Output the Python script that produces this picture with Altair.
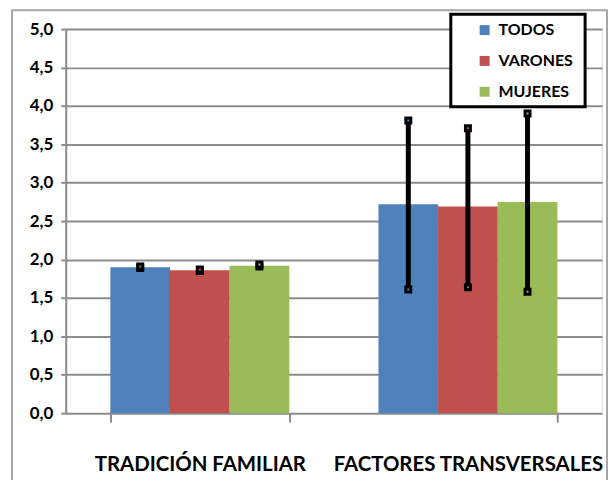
import altair as alt
import pandas as pd

categories = ["TRADICIÓN FAMILIAR", "FACTORES TRANSVERSALES"]
series = ["TODOS", "VARONES", "MUJERES"]
colors = ["#4F81BD", "#C0504D", "#9BBB59"]

means_trad = [1.90, 1.86, 1.92]
means_fact = [2.72, 2.69, 2.75]
low_trad = [1.89, 1.85, 1.91]
high_trad = [1.91, 1.87, 1.935]
low_fact = [1.61, 1.64, 1.58]
high_fact = [3.81, 3.71, 3.90]
y_ticks = [0, 0.5, 1, 1.5, 2, 2.5, 3, 3.5, 4, 4.5, 5]

rows = []
for cat, means, lows, highs in [
    (categories[0], means_trad, low_trad, high_trad),
    (categories[1], means_fact, low_fact, high_fact),
]:
    for s, m, lo, hi in zip(series, means, lows, highs):
        rows.append({"cat": cat, "serie": s, "valor": m, "lo": lo, "hi": hi})
df = pd.DataFrame(rows)

caps = []
for r in rows:
    caps.append({"cat": r["cat"], "serie": r["serie"], "v": r["lo"]})
    caps.append({"cat": r["cat"], "serie": r["serie"], "v": r["hi"]})
caps_df = pd.DataFrame(caps)

FONT = "Lato"
W, H = 539, 386

xenc = alt.X(
    "cat:N",
    sort=categories,
    scale=alt.Scale(paddingInner=0.333, paddingOuter=0.1667),
    axis=alt.Axis(
        title=None, labelAngle=0, tickBand="extent", tickSize=9, tickWidth=2,
        tickColor="#8c8c8c", domain=False, labelFont=FONT, labelFontSize=20.5,
        labelFontWeight="bold", labelColor="black", labelPadding=33, grid=False,
        labelLimit=400,
    ),
)
xoff = alt.XOffset("serie:N", sort=series)
yscale = alt.Scale(domain=[0, 5])
yaxis = alt.Axis(
    title=None, values=y_ticks,
    labelExpr="replace(format(datum.value, '.1f'), '.', ',')",
    labelFont=FONT, labelFontSize=17, labelFontWeight="bold", labelColor="black",
    labelOverlap=False,
    grid=True, gridColor="#8c8c8c", gridWidth=2, domainColor="#8c8c8c",
    domainWidth=2, tickColor="#8c8c8c", tickWidth=2, tickSize=5, labelPadding=8,
)
color = alt.Color(
    "serie:N", sort=series, scale=alt.Scale(domain=series, range=colors),
    legend=alt.Legend(
        title=None, orient="none", legendX=413, legendY=-7, symbolType="square",
        symbolSize=100, symbolStrokeWidth=0, labelFont=FONT, labelFontSize=16,
        labelFontWeight="bold", labelColor="black", rowPadding=15, labelOffset=6,
        labelLimit=200,
    ),
)

border = alt.Chart(pd.DataFrame({"a": [0]})).mark_rect(
    fill=None, stroke="#a6a6a6", strokeWidth=2, clip=False
).encode(
    x=alt.value(-54), x2=alt.value(544), y=alt.value(-19), y2=alt.value(470)
)

bars = alt.Chart(df).mark_bar(size=60).encode(
    x=xenc, xOffset=xoff, y=alt.Y("valor:Q", scale=yscale, axis=yaxis), color=color
)

rules = alt.Chart(df).mark_rule(color="black", strokeWidth=5).encode(
    x=xenc, xOffset=xoff, y=alt.Y("lo:Q", scale=yscale, axis=yaxis), y2="hi:Q"
)

capmarks = alt.Chart(caps_df).mark_square(
    size=25, stroke="black", strokeWidth=3, opacity=1
).encode(
    x=xenc, xOffset=xoff, y=alt.Y("v:Q", scale=yscale, axis=yaxis),
    fill=alt.Fill("serie:N", sort=series, scale=alt.Scale(domain=series, range=colors), legend=None),
)

legbox = alt.Chart(pd.DataFrame({"a": [0]})).mark_rect(
    fill="white", stroke="black", strokeWidth=3, clip=False
).encode(
    x=alt.value(387), x2=alt.value(522), y=alt.value(-15), y2=alt.value(78)
)

chart = alt.layer(border, bars, rules, capmarks, legbox).properties(
    width=W, height=H,
    autosize=alt.AutoSizeParams(type="none"),
    padding={"left": 58, "top": 20, "right": 6, "bottom": 66},
).configure_view(stroke=None).configure(background="white")

chart.save("out.html", embed_options={"renderer": "svg", "actions": False})
